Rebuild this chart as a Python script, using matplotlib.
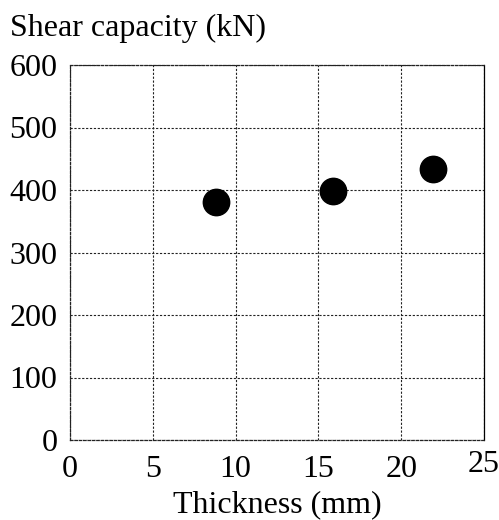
import matplotlib
matplotlib.use("Agg")
import matplotlib.pyplot as plt
import matplotlib.transforms as mtransforms

plt.rcParams['font.family'] = ['Liberation Serif', 'DejaVu Serif']

thickness = [8.8, 15.9, 21.9]          # mm
shear_capacity = [381, 398, 434]        # kN
x_ticks = [0, 5, 10, 15, 20, 25]
y_ticks = [0, 100, 200, 300, 400, 500, 600]

fig = plt.figure(figsize=(4.99, 5.2), dpi=100)
ax = fig.add_axes([70 / 499, 80 / 520, 414 / 499, 375 / 520])

ax.scatter(thickness, shear_capacity, s=19**2, color='black', zorder=3)

ax.set_xlim(0, 25)
ax.set_ylim(0, 600)
ax.set_xticks(x_ticks)
ax.set_yticks(y_ticks)
ax.tick_params(length=0, labelsize=23, pad=11)
ax.tick_params(axis='y', pad=9)

ax.grid(True, color='#222222', linestyle=(0, (2, 1.5)), linewidth=0.8)
for side in ('left', 'bottom', 'top'):
    ax.spines[side].set_linestyle((0, (2, 1.5)))
    ax.spines[side].set_linewidth(0.9)
    ax.spines[side].set_color('#222222')
ax.spines['right'].set_linewidth(0.9)

# last x tick label sits a little higher
lbl = ax.get_xticklabels()[-1]
lbl.set_transform(lbl.get_transform() + mtransforms.ScaledTranslation(0, 5 / 100, fig.dpi_scale_trans))

fig.text(10 / 499, 1 - 36 / 520, 'Shear capacity (kN)', fontsize=23, ha='left', va='baseline')
fig.text(277 / 499, 1 - 512 / 520, 'Thickness (mm)', fontsize=23, ha='center', va='baseline')

fig.savefig('out.png', dpi=100)
